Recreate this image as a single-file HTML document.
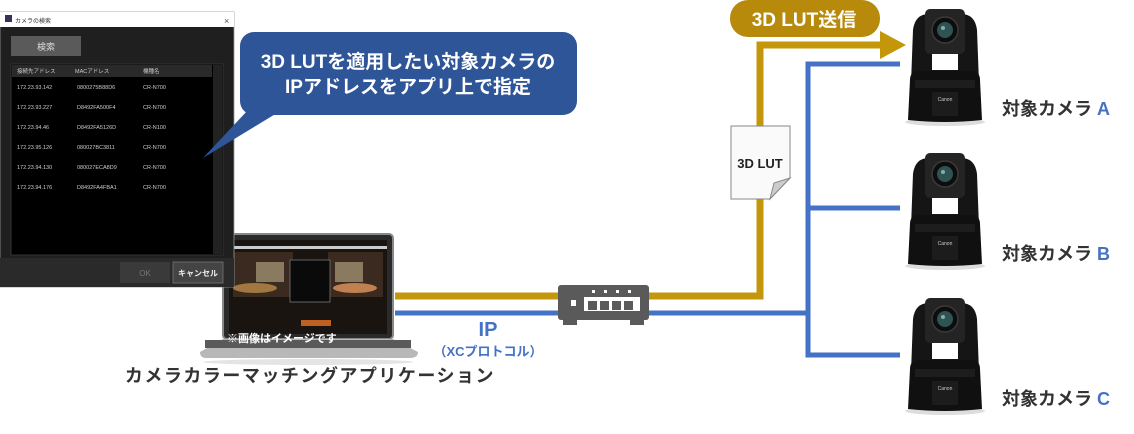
<!DOCTYPE html>
<html><head><meta charset="utf-8">
<style>
html,body{margin:0;padding:0;background:#fff;}
body{width:1134px;height:429px;overflow:hidden;position:relative;font-family:"Liberation Sans","Noto Sans CJK JP",sans-serif;}
svg text{font-family:"Liberation Sans","Noto Sans CJK JP",sans-serif;}
</style></head><body>
<svg width="1134" height="429" viewBox="0 0 1134 429" xmlns="http://www.w3.org/2000/svg">
<defs>
<g id="cam">
  <ellipse cx="40" cy="114" rx="40" ry="4" fill="#ddd"/>
  <path d="M6,75 L8,22 Q10,6 24,6 L56,6 Q70,6 72,22 L74,75 Z" fill="#151515"/>
  <path d="M27,46 L53,46 L53,62 L27,62 Z" fill="#fff"/>
  <rect x="20" y="1" width="40" height="45" rx="5" fill="#242424"/>
  <circle cx="40" cy="22" r="13" fill="#0d0d0d" stroke="#3a3a3a" stroke-width="1.5"/>
  <circle cx="40" cy="22" r="8" fill="#2f5252"/>
  <circle cx="38" cy="20" r="2" fill="#8aa"/>
  <path d="M3,112 L5,72 Q5,63 14,63 L66,63 Q75,63 75,72 L77,112 Q40,116 3,112 Z" fill="#101010"/>
  <rect x="10" y="72" width="60" height="8" fill="#1d1d1d"/>
  <rect x="27" y="84" width="26" height="24" fill="#1c1c1c"/>
  <text x="40" y="93" font-size="5" fill="#ccc" text-anchor="middle">Canon</text>
</g>
</defs>

<polyline points="395,296 760,296 760,45 885,45" fill="none" stroke="#c4970b" stroke-width="7"/>
<polygon points="880,31 906,45 880,59" fill="#c4970b"/>
<polyline points="395,313 808,313" fill="none" stroke="#4472c4" stroke-width="5"/>
<polyline points="900,64 808,64 808,355 900,355" fill="none" stroke="#4472c4" stroke-width="5"/>
<line x1="808" y1="208" x2="900" y2="208" stroke="#4472c4" stroke-width="5"/>

<rect x="730" y="0" width="150" height="37" rx="18" fill="#b88a0c"/>
<text x="804" y="26" font-size="19" font-weight="bold" fill="#fff" text-anchor="middle">3D LUT送信</text>

<path d="M731,126 L790,126 L790,178 L770,199 L731,199 Z" fill="#fafafa" stroke="#888" stroke-width="1"/>
<path d="M790,178 L774,183 L770,199 Z" fill="#ccc" stroke="#888" stroke-width="1"/>
<text x="760" y="168" font-size="13" font-weight="bold" fill="#222" text-anchor="middle">3D LUT</text>

<rect x="558" y="285" width="91" height="35" rx="3" fill="#5a5a5a"/>
<rect x="563" y="318" width="14" height="7" fill="#5a5a5a"/>
<rect x="630" y="318" width="14" height="7" fill="#5a5a5a"/>
<rect x="571" y="300" width="5" height="6" fill="#fff"/>
<rect x="584" y="297" width="56" height="14" fill="#fff"/>
<g fill="#5a5a5a"><rect x="588" y="301" width="9" height="9"/><rect x="600" y="301" width="9" height="9"/><rect x="612" y="301" width="9" height="9"/><rect x="624" y="301" width="9" height="9"/></g>
<g fill="#fff"><rect x="592" y="290" width="3" height="3"/><rect x="604" y="290" width="3" height="3"/><rect x="616" y="290" width="3" height="3"/><rect x="628" y="290" width="3" height="3"/></g>

<text x="488" y="336" font-size="20" font-weight="bold" fill="#4472c4" text-anchor="middle">IP</text>
<text x="488" y="356" font-size="13" font-weight="bold" fill="#4472c4" text-anchor="middle">（XCプロトコル）</text>

<use href="#cam" x="905" y="8"/>
<use href="#cam" x="905" y="152"/>
<use href="#cam" x="905" y="297"/>
<g font-size="18" font-weight="bold" fill="#333">
<text x="1002" y="115">対象カメラ <tspan fill="#4472c4">A</tspan></text>
<text x="1002" y="260">対象カメラ <tspan fill="#4472c4">B</tspan></text>
<text x="1002" y="405">対象カメラ <tspan fill="#4472c4">C</tspan></text>
</g>

<rect x="223" y="234" width="170" height="105" rx="4" fill="#2a2a2a" stroke="#888" stroke-width="2"/>
<rect x="229" y="240" width="158" height="94" fill="#1a1410"/>
<rect x="229" y="246" width="158" height="3" fill="#ccc"/>
<rect x="233" y="252" width="60" height="45" fill="#3a2a20"/>
<rect x="328" y="252" width="55" height="45" fill="#3a2a20"/>
<rect x="256" y="262" width="28" height="20" fill="#8a7a60"/>
<rect x="335" y="262" width="28" height="20" fill="#8a7a60"/>
<ellipse cx="255" cy="288" rx="22" ry="5" fill="#a07840"/>
<ellipse cx="355" cy="288" rx="22" ry="5" fill="#c08050"/>
<rect x="290" y="260" width="40" height="42" fill="#0a0a0a" stroke="#777" stroke-width="0.8"/>
<rect x="301" y="320" width="30" height="6" fill="#c06020"/>
<path d="M223,339 L393,339 L418,352 Q418,358 410,358 L206,358 Q200,358 200,352 Z" fill="#b8b8b8"/>
<rect x="205" y="340" width="206" height="8" fill="#5a5a5a"/>
<ellipse cx="308" cy="362" rx="105" ry="3" fill="#e4e4e4"/>
<text x="227" y="342" font-size="11" font-weight="bold" fill="#fff">※画像はイメージです</text>

<text x="310" y="382" font-size="18" font-weight="bold" fill="#333" text-anchor="middle" letter-spacing="1.5">カメラカラーマッチングアプリケーション</text>

<rect x="0" y="12" width="234" height="275" fill="#1f1f1f" stroke="#999" stroke-width="0.8"/>
<rect x="0" y="12" width="234" height="15" fill="#fff"/>
<rect x="5" y="15" width="7" height="7" fill="#335"/>
<text x="15" y="23" font-size="6" fill="#333">カメラの検索</text>
<text x="224" y="24" font-size="9" fill="#555">×</text>
<rect x="11" y="36" width="70" height="20" fill="#5a5a5a"/>
<text x="46" y="50" font-size="9" fill="#ddd" text-anchor="middle">検索</text>
<rect x="11" y="64" width="212" height="191" fill="#000" stroke="#333" stroke-width="1"/>
<rect x="12" y="65" width="200" height="12" fill="#2a2a2a"/>
<rect x="213" y="65" width="9" height="189" fill="#222"/>
<g font-size="5.5" fill="#ccc">
<text x="17" y="73">接続先アドレス</text><text x="75" y="73">MACアドレス</text><text x="143" y="73">機種名</text>
<text x="17" y="89">172.23.93.142</text><text x="77" y="89">0800275B88D6</text><text x="143" y="89">CR-N700</text>
<text x="17" y="109">172.23.93.227</text><text x="77" y="109">D8492FA500F4</text><text x="143" y="109">CR-N700</text>
<text x="17" y="129">172.23.94.46</text><text x="77" y="129">D8492FA5126D</text><text x="143" y="129">CR-N100</text>
<text x="17" y="149">172.23.95.126</text><text x="77" y="149">080027BC3811</text><text x="143" y="149">CR-N700</text>
<text x="17" y="169">172.23.94.130</text><text x="77" y="169">080027ECA8D9</text><text x="143" y="169">CR-N700</text>
<text x="17" y="189">172.23.94.176</text><text x="77" y="189">D8492FA4FBA1</text><text x="143" y="189">CR-N700</text>
</g>
<rect x="0" y="258" width="234" height="29" fill="#2a2a2a"/>
<rect x="120" y="262" width="50" height="21" fill="#3a3a3a"/>
<text x="145" y="276" font-size="8" fill="#777" text-anchor="middle">OK</text>
<rect x="173" y="262" width="50" height="21" fill="#444" stroke="#777" stroke-width="0.8"/>
<text x="198" y="276" font-size="8" font-weight="bold" fill="#eee" text-anchor="middle">キャンセル</text>

<path d="M248,110 L282,110 L203,158 Z" fill="#2e5597"/>
<rect x="240" y="32" width="337" height="83" rx="14" fill="#2e5597"/>
<text x="408" y="68" font-size="19" font-weight="bold" fill="#fff" text-anchor="middle">3D LUTを適用したい対象カメラの</text>
<text x="408" y="93" font-size="19" font-weight="bold" fill="#fff" text-anchor="middle">IPアドレスをアプリ上で指定</text>
</svg>
</body></html>
